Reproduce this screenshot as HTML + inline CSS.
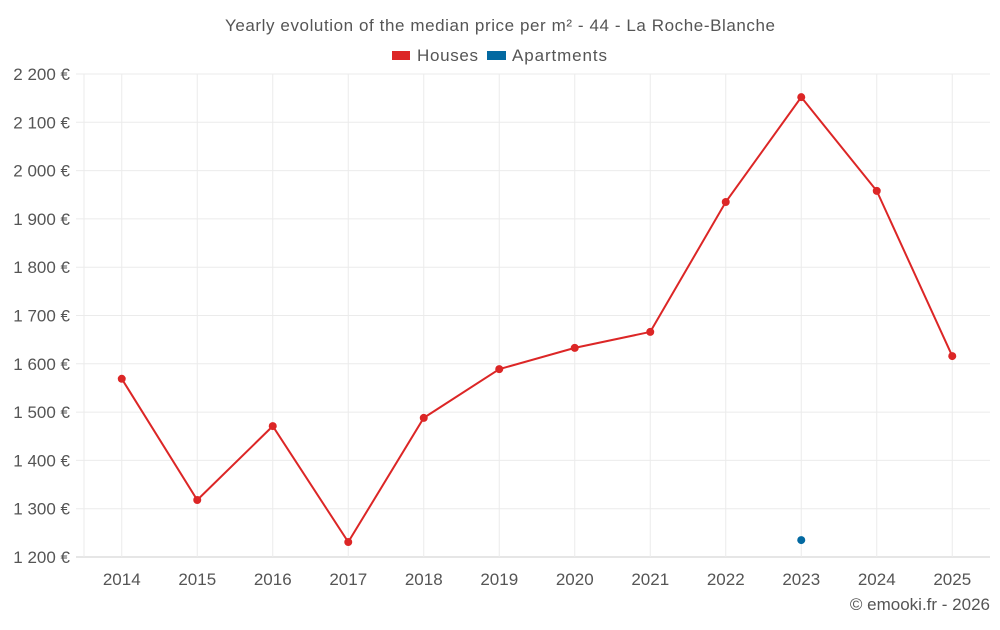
<!DOCTYPE html>
<html><head><meta charset="utf-8"><style>
body{margin:0;background:#fff;font-family:"Liberation Sans",sans-serif;}
svg text{font-family:"Liberation Sans",sans-serif;fill:#555;}
</style></head><body>
<svg id="chart" width="1000" height="625">
<text x="500" y="31" text-anchor="middle" font-size="17" textLength="550" lengthAdjust="spacing">Yearly evolution of the median price per m² - 44 - La Roche-Blanche</text>
<g>
<g><rect x="392" y="51" width="18" height="9" fill="#dc2626"/><text x="417" y="61" font-size="17" textLength="61" lengthAdjust="spacing">Houses</text></g>
<g><rect x="487" y="51" width="19" height="9" fill="#0369a1"/><text x="512" y="61" font-size="17" textLength="95" lengthAdjust="spacing">Apartments</text></g>
</g>
<g id="grid"></g><g id="axes"></g><g id="marks"></g>
<text x="990" y="610" text-anchor="end" font-size="17">© emooki.fr - 2026</text>
</svg>
<script>
const years=["2014","2015","2016","2017","2018","2019","2020","2021","2022","2023","2024","2025"];
const houses=[1569,1318,1471,1231,1488,1589,1633,1666,1935,2152,1958,1616];
const apartments=[null,null,null,null,null,null,null,null,null,1235,null,null];
const yTicks=[1200,1300,1400,1500,1600,1700,1800,1900,2000,2100,2200];
const yLabels=["1 200 €","1 300 €","1 400 €","1 500 €","1 600 €","1 700 €","1 800 €","1 900 €","2 000 €","2 100 €","2 200 €"];
const L=84,R=990,T=74,B=557,ymin=1200,ymax=2200;
const NS="http://www.w3.org/2000/svg";
const bw=(R-L)/years.length;
function xs(i){return L+bw*(i+0.5);}
function ys(v){return B-(v-ymin)/(ymax-ymin)*(B-T);}
function mk(tag,attrs,parent){const e=document.createElementNS(NS,tag);for(const k in attrs)e.setAttribute(k,attrs[k]);document.getElementById(parent).appendChild(e);return e;}
yTicks.forEach((t,i)=>{
 const l=mk("line",{x1:76,x2:R,y1:ys(t),y2:ys(t),stroke:i==0?"#ccc":"#ebebeb","stroke-width":1},"grid");
 
 
 const tx=mk("text",{x:70,y:ys(t)+6,"text-anchor":"end","font-size":17},"axes");
 tx.textContent=yLabels[i];
 
 
});
const ax=mk("line",{x1:L,x2:L,y1:T,y2:B,stroke:"#ebebeb"},"grid");


years.forEach((y,i)=>{
 const l=mk("line",{x1:xs(i),x2:xs(i),y1:T,y2:B,stroke:"#ebebeb"},"grid");
 
 
 const tx=mk("text",{x:xs(i),y:585,"text-anchor":"middle","font-size":17},"axes");
 tx.textContent=y;
 
 
});
const pl=mk("polyline",{points:houses.map((v,i)=>xs(i)+","+ys(v)).join(" "),fill:"none",stroke:"#dc2626","stroke-width":2},"marks");


houses.forEach((v,i)=>{
 const c=mk("circle",{cx:xs(i),cy:ys(v),r:4,fill:"#dc2626"},"marks");
 
 
});
apartments.forEach((v,i)=>{
 if(v==null)return;
 const c=mk("circle",{cx:xs(i),cy:ys(v),r:4,fill:"#0369a1"},"marks");
 
 
});
</script>
</body></html>
